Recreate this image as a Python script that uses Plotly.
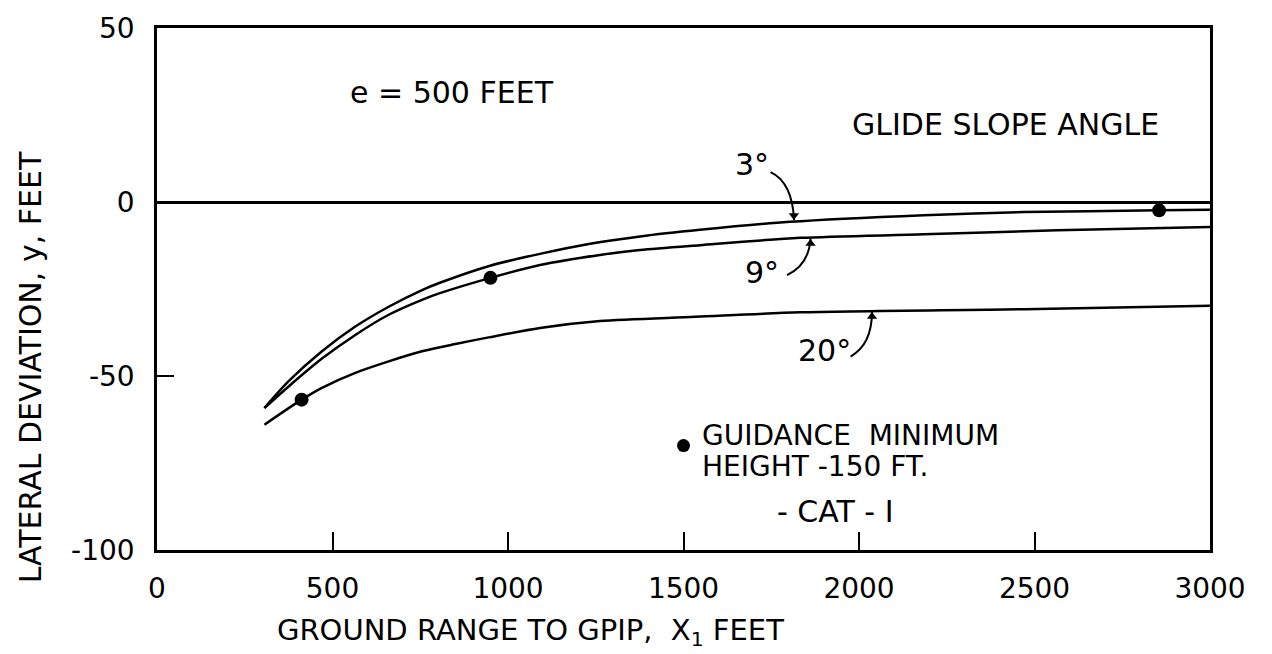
import plotly.graph_objects as go

# ---- data ----
x_3deg = [306, 375, 470, 565, 660, 755, 806, 949, 1091, 1234, 1376, 1547, 1803, 2185, 2470, 2855, 3000]
y_3deg = [-59.2, -51.5, -42.9, -35.8, -30.1, -25.3, -23.2, -18.3, -14.9, -12.0, -9.9, -8.0, -5.7, -3.8, -2.9, -2.4, -2.2]

x_9deg = [306, 375, 470, 565, 660, 755, 806, 950, 1091, 1262, 1376, 1547, 1832, 2185, 2565, 3000]
y_9deg = [-59.2, -53.0, -45.0, -38.2, -32.4, -28.1, -26.2, -21.8, -18.1, -15.2, -13.8, -12.4, -10.3, -9.3, -8.1, -7.2]

x_20deg = [306, 412, 470, 565, 660, 755, 850, 945, 1091, 1262, 1534, 1832, 2471, 3000]
y_20deg = [-64.0, -56.8, -53.4, -49.1, -45.8, -42.9, -40.8, -38.9, -36.2, -34.2, -33.0, -31.7, -30.8, -29.8]

# guidance minimum height points (150 ft, CAT-I)
x_min = [412, 950, 2855]
y_min = [-56.8, -21.8, -2.4]

x_ticks = [0, 500, 1000, 1500, 2000, 2500, 3000]
x_ticktext = ["0", "500", "1000", "1500", "2000", "2500", "3000"]
y_ticks = [-100, -50, 0, 50]
y_ticktext = ["-100", "-50", "0", "50"]

# label arrows (curved leader lines) : start, control, tip
arrow_paths = [
    ((1748, 8.6), (1810, 5.7), (1815, -5.2)),
    ((1795, -21.0), (1857, -18.1), (1862, -10.5)),
    ((1976, -44.4), (2037, -41.0), (2037, -31.5)),
]
arrow_heads_x = [1814.5, 1862, 2037]
arrow_heads_y = [-3.9, -11.9, -32.9]
arrow_heads_sym = ["triangle-down", "triangle-up", "triangle-up"]

FONT = "DejaVu Sans"
fig = go.Figure()

for xs, ys in [(x_3deg, y_3deg), (x_9deg, y_9deg), (x_20deg, y_20deg)]:
    fig.add_trace(go.Scatter(x=xs, y=ys, mode="lines",
                             line=dict(color="black", width=2.5, shape="spline", smoothing=0.8),
                             showlegend=False, hoverinfo="skip"))

fig.add_trace(go.Scatter(x=x_min, y=y_min, mode="markers",
                         marker=dict(color="black", size=14), showlegend=False))
# legend marker
fig.add_trace(go.Scatter(x=[1500], y=[-70], mode="markers",
                         marker=dict(color="black", size=13), showlegend=False))
# arrow heads
fig.add_trace(go.Scatter(x=arrow_heads_x, y=arrow_heads_y, mode="markers",
                         marker=dict(color="black", size=9, symbol=arrow_heads_sym),
                         showlegend=False, hoverinfo="skip"))

ann_font = dict(family=FONT, size=30, color="black")
annotations = [
    dict(x=840, y=31.4, text="e = 500 FEET", showarrow=False, font=ann_font),
    dict(x=2416, y=22.3, text="GLIDE SLOPE ANGLE", showarrow=False, font=ann_font),
    dict(x=1695, y=10.9, text="3°", showarrow=False, font=ann_font),
    dict(x=1724, y=-20.3, text="9°", showarrow=False, font=ann_font),
    dict(x=1903, y=-42.6, text="20°", showarrow=False, font=ann_font),
    dict(x=1547, y=-67.0, text="GUIDANCE  MINIMUM", showarrow=False,
         font=dict(family=FONT, size=28, color="black"), xanchor="left"),
    dict(x=1547, y=-75.9, text="HEIGHT -150 FT.", showarrow=False,
         font=dict(family=FONT, size=28, color="black"), xanchor="left"),
    dict(x=1934, y=-88.9, text="- CAT - I", showarrow=False, font=ann_font),
    # axis titles
    dict(xref="paper", yref="paper", x=-0.1206, y=0.35, xanchor="center", yanchor="middle",
         text="LATERAL DEVIATION, y, FEET", textangle=-90, showarrow=False,
         font=dict(family=FONT, size=30, color="black")),
    dict(xref="paper", yref="paper", x=0.355, y=-0.158, xanchor="center", yanchor="middle",
         text="GROUND RANGE TO GPIP,  X<sub>1</sub> FEET",
         showarrow=False, font=dict(family=FONT, size=29, color="black")),
]

shapes = [
    dict(type="path", xref="x", yref="y",
         path=f"M {a[0]} {a[1]} Q {c[0]} {c[1]} {b[0]} {b[1]}",
         line=dict(color="black", width=2))
    for a, c, b in arrow_paths
]

fig.update_layout(
    width=1272, height=654,
    margin=dict(l=157, r=62, t=25, b=104),
    paper_bgcolor="white", plot_bgcolor="white",
    annotations=annotations, shapes=shapes,
    font=dict(family=FONT, color="black"),
)
fig.update_xaxes(range=[0, 3000], tickvals=x_ticks, ticktext=x_ticktext,
                 showgrid=False, zeroline=False, showline=True, mirror=True,
                 linecolor="black", linewidth=2.5, ticks="inside", ticklen=18, tickwidth=2,
                 tickcolor="black", tickfont=dict(family=FONT, size=28, color="black"),
                 ticklabelstandoff=12)
fig.update_yaxes(range=[-100, 50], tickvals=y_ticks, ticktext=y_ticktext,
                 showgrid=False, zeroline=True, zerolinecolor="black", zerolinewidth=2.5,
                 showline=True, mirror=True,
                 linecolor="black", linewidth=2.5, ticks="inside", ticklen=17, tickwidth=2,
                 tickcolor="black", tickfont=dict(family=FONT, size=28, color="black"),
                 ticklabelstandoff=14)

fig.write_html("out.html")
